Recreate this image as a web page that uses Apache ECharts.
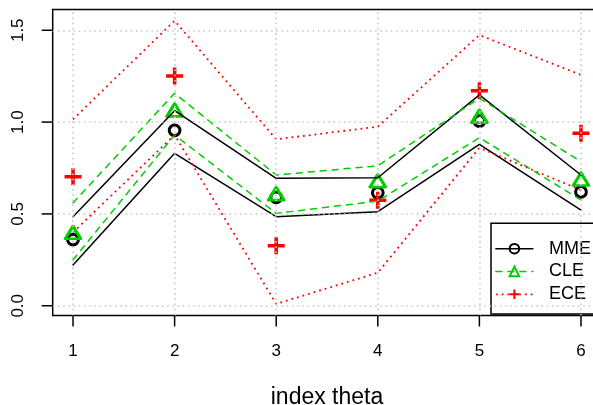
<!DOCTYPE html>
<html>
<head>
<meta charset="utf-8">
<script src="https://cdn.jsdelivr.net/npm/echarts@6/dist/echarts.min.js"></script>
<style>
  html, body { margin: 0; padding: 0; background: #ffffff; }
  #chart { width: 593px; height: 405px; }
</style>
</head>
<body>
<div id="chart"></div>
<script>
// Parameter index on the x axis
const thetaIndex = [1, 2, 3, 4, 5, 6];
const xTicks = [1, 2, 3, 4, 5, 6];
const yTicks = [0, 0.5, 1.0, 1.5];

// MME: estimates with lower / upper bounds
const mmeEst   = [0.360, 0.955, 0.590, 0.615, 1.005, 0.620];
const mmeLower = [0.222, 0.830, 0.485, 0.512, 0.879, 0.521];
const mmeUpper = [0.485, 1.062, 0.694, 0.697, 1.148, 0.712];

// CLE: estimates with lower / upper bounds
const cleEst   = [0.388, 1.054, 0.598, 0.669, 1.020, 0.678];
const cleLower = [0.250, 0.930, 0.503, 0.570, 0.915, 0.576];
const cleUpper = [0.560, 1.157, 0.712, 0.762, 1.130, 0.785];

// ECE: estimates with lower / upper bounds
const eceEst   = [0.703, 1.251, 0.327, 0.574, 1.171, 0.939];
const eceLower = [0.400, 0.930, 0.010, 0.180, 0.860, 0.630];
const eceUpper = [1.015, 1.552, 0.906, 0.975, 1.474, 1.257];

const legendNames = ['MME', 'CLE', 'ECE'];
const xTitle = 'index theta';

const FONT = 'Liberation Sans';
const GREEN = '#00CD00';
const RED = '#FF0000';
const PLUS = 'path://M0,5L10,5M5,0L5,10';
const RED_DOTS = [1.8, 4];
const TICK_LEN = 11;

// Plot region (pixels) and its data range, padded 4% like base R
const PLOT = { left: 52.7, right: 601.3, top: 9.5, bottom: 315.5 };
const X_MIN = 0.8, X_MAX = 6.2;
const Y_MIN = -0.053, Y_MAX = 1.613;
const W = 593, H = 405;

const pairs = (vals) => thetaIndex.map((x, i) => [x, vals[i]]);

function boundSeries(name, vals, color, type, symbol, width, cap) {
  return {
    name: name,
    type: 'line',
    data: pairs(vals),
    symbol: symbol,
    showSymbol: false,
    silent: true,
    animation: false,
    lineStyle: { color: color, width: width || 1.5, type: type, cap: cap || 'round' },
    emphasis: { disabled: true }
  };
}

function pointSeries(name, vals, symbol, size, color, width, offset) {
  return {
    name: name,
    type: 'scatter',
    data: pairs(vals),
    symbol: symbol,
    symbolSize: size,
    symbolOffset: offset || [0, 0],
    silent: true,
    animation: false,
    itemStyle: {
      color: 'none',
      borderColor: color,
      borderWidth: width,
      borderJoin: 'round',
      opacity: 1
    },
    emphasis: { disabled: true }
  };
}

const gridLineStyle = { color: '#C8C8C8', width: 1.6, type: [1.6, 3.6] };
const axisLineStyle = { color: '#000000', width: 1.5 };

const chart = echarts.init(document.getElementById('chart'), null, { renderer: 'canvas' });

chart.setOption({
  animation: false,
  textStyle: { fontFamily: FONT },
  grid: {
    left: PLOT.left,
    right: W - PLOT.right,
    top: PLOT.top,
    bottom: H - PLOT.bottom,
    show: true,
    borderColor: '#000000',
    borderWidth: 1.5,
    backgroundColor: 'transparent',
    containLabel: false,
    outerBoundsMode: 'none'
  },
  xAxis: {
    type: 'value',
    min: X_MIN,
    max: X_MAX,
    splitLine: { show: false },
    axisLine: { show: false },
    axisTick: { show: false },
    axisLabel: {
      customValues: xTicks,
      color: '#000000',
      fontSize: 17,
      fontFamily: FONT,
      margin: 27
    },
    name: xTitle,
    nameLocation: 'middle',
    nameGap: 71,
    nameTextStyle: { color: '#000000', fontSize: 23, fontFamily: FONT }
  },
  yAxis: {
    type: 'value',
    min: Y_MIN,
    max: Y_MAX,
    splitLine: { show: false },
    axisLine: { show: false },
    axisTick: { show: false },
    axisLabel: {
      customValues: yTicks,
      rotate: 90,
      color: '#000000',
      fontSize: 17,
      fontFamily: FONT,
      margin: 26,
      formatter: (v) => Number(v).toFixed(1)
    }
  },
  legend: {
    data: [
      { name: legendNames[0], lineStyle: { color: '#000000', width: 1.5, type: 'solid', opacity: 1 },
        itemStyle: { color: 'none', borderColor: '#000000', borderWidth: 2, opacity: 1 } },
      { name: legendNames[1], lineStyle: { color: GREEN, width: 1.5, type: [6, 6], opacity: 1 },
        itemStyle: { color: 'none', borderColor: GREEN, borderWidth: 2, opacity: 1 } },
      { name: legendNames[2], lineStyle: { color: RED, width: 1.8, type: RED_DOTS, opacity: 1 },
        itemStyle: { color: 'none', borderColor: RED, borderWidth: 2, opacity: 1 } }
    ],
    orient: 'vertical',
    left: 491,
    top: 223.3,
    itemWidth: 37,
    itemHeight: 12,
    itemGap: 2.8,
    padding: [15.4, 14, 9.8, 4],
    borderColor: '#000000',
    borderWidth: 1.5,
    borderRadius: 0,
    backgroundColor: 'transparent',
    selectedMode: false,
    textStyle: {
      color: '#000000',
      fontSize: 18,
      fontFamily: FONT,
      lineHeight: 20,
      padding: [0, 0, 0, 11]
    }
  },
  series: [
    {
      name: 'gridlines',
      type: 'line',
      data: [],
      silent: true,
      z: 1,
      markLine: {
        silent: true,
        symbol: ['none', 'none'],
        label: { show: false },
        lineStyle: gridLineStyle,
        emphasis: { disabled: true },
        animation: false,
        data: xTicks.map((v) => ({ xAxis: v })).concat(yTicks.map((v) => ({ yAxis: v })))
      }
    },
    boundSeries(legendNames[0], mmeUpper, '#000000', 'solid', 'circle'),
    boundSeries(legendNames[0], mmeLower, '#000000', 'solid', 'circle'),
    pointSeries(legendNames[0], mmeEst, 'circle', 10.7, '#000000', 3),
    boundSeries(legendNames[1], cleUpper, GREEN, [6, 6], 'triangle'),
    boundSeries(legendNames[1], cleLower, GREEN, [6, 6], 'triangle'),
    pointSeries(legendNames[1], cleEst, 'triangle', [15.5, 12.7], GREEN, 3, [0, -2.1]),
    boundSeries(legendNames[2], eceUpper, RED, RED_DOTS, PLUS, 1.8, 'butt'),
    boundSeries(legendNames[2], eceLower, RED, RED_DOTS, PLUS, 1.8, 'butt'),
    pointSeries(legendNames[2], eceEst, PLUS, 17, RED, 3.5)
  ]
});

// Outward tick marks on the bottom and left edges, placed with the axes' own scales
const tickEls = [];
xTicks.forEach((v) => {
  const px = chart.convertToPixel({ xAxisIndex: 0 }, v);
  tickEls.push({
    type: 'line', silent: true, z: 10,
    shape: { x1: px, y1: PLOT.bottom, x2: px, y2: PLOT.bottom + TICK_LEN },
    style: { stroke: '#000000', lineWidth: 1.5 }
  });
});
yTicks.forEach((v) => {
  const py = chart.convertToPixel({ yAxisIndex: 0 }, v);
  tickEls.push({
    type: 'line', silent: true, z: 10,
    shape: { x1: PLOT.left, y1: py, x2: PLOT.left - TICK_LEN, y2: py },
    style: { stroke: '#000000', lineWidth: 1.5 }
  });
});
chart.setOption({ graphic: { elements: tickEls } });
</script>
</body>
</html>
